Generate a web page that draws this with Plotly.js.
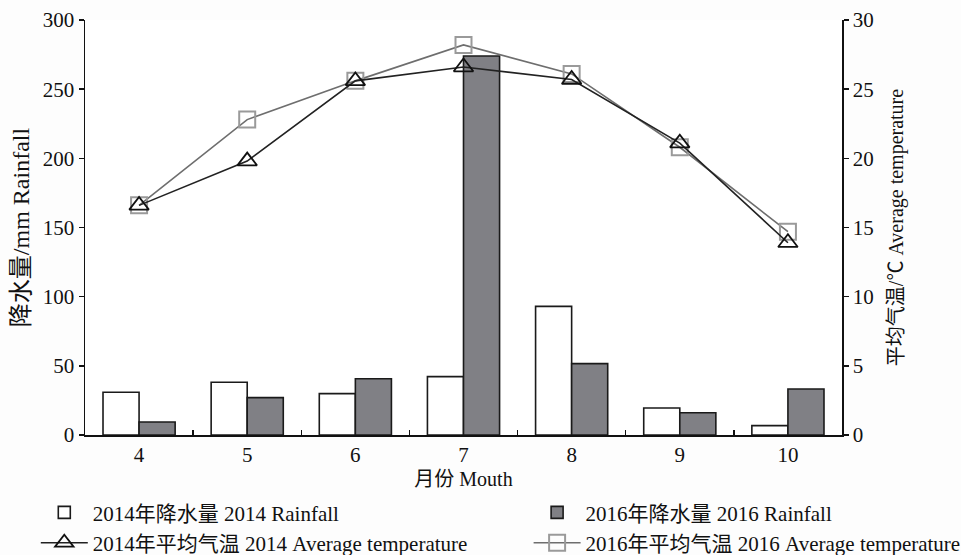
<!DOCTYPE html>
<html>
<head>
<meta charset="utf-8">
<script src="https://cdn.plot.ly/plotly-3.0.1.min.js"></script>
<style>html,body{margin:0;padding:0;background:#fdfdfd;}</style>
</head>
<body>
<div id="chart" style="width:961px;height:555px;"></div>
<script>
const months = ['4', '5', '6', '7', '8', '9', '10'];
const rain2014 = [30.9, 38.1, 29.9, 42.2, 93.0, 19.5, 6.8];
const rain2016 = [9.4, 27.0, 40.7, 274.0, 51.6, 16.1, 33.3];
const temp2014 = [16.6, 19.8, 25.6, 26.6, 25.7, 21.1, 13.9];
const temp2016 = [16.6, 22.8, 25.6, 28.2, 26.1, 20.8, 14.7];
const names = {
  r14: '2014年降水量 2014 Rainfall',
  r16: '2016年降水量 2016 Rainfall',
  t14: '2014年平均气温 2014 Average temperature',
  t16: '2016年平均气温 2016 Average temperature'
};

const FONT = '"Liberation Serif", "Times New Roman", "Noto Sans CJK SC", serif';

const traces = [
  {
    type: 'bar', x: months, y: rain2014, name: names.r14, legend: 'legend',
    marker: {color: '#ffffff', line: {color: '#1a1a1a', width: 1.6}},
    yaxis: 'y'
  },
  {
    type: 'bar', x: months, y: rain2016, name: names.r16, legend: 'legend2',
    marker: {color: '#808085', line: {color: '#1a1a1a', width: 1.6}},
    yaxis: 'y'
  },
  {
    type: 'scatter', mode: 'lines+markers', x: months, y: temp2016, name: names.t16,
    legend: 'legend2', yaxis: 'y2',
    line: {color: '#6e6e6e', width: 1.6},
    marker: {symbol: 'square-open', size: 16, color: '#9a9a9a', line: {width: 2, color: '#9a9a9a'}}
  },
  {
    type: 'scatter', mode: 'lines+markers', x: months, y: temp2014, name: names.t14,
    legend: 'legend', yaxis: 'y2',
    line: {color: '#222222', width: 1.6},
    marker: {symbol: 'triangle-up-open', size: 17, color: '#111111', line: {width: 1.8, color: '#111111'}}
  }
];

const legendCommon = {
  orientation: 'v', xanchor: 'left', yanchor: 'top',
  bgcolor: 'rgba(0,0,0,0)', borderwidth: 0,
  font: {family: FONT, size: 21, color: '#111'},
  itemwidth: 47, tracegroupgap: 0, traceorder: 'normal'
};

const layout = {
  width: 961, height: 555,
  margin: {l: 85, r: 119, t: 20, b: 120, autoexpand: false},
  paper_bgcolor: '#fdfdfd',
  plot_bgcolor: '#ffffff',
  font: {family: FONT, size: 21, color: '#111'},
  barmode: 'group', bargap: 0.333, bargroupgap: 0,
  showlegend: true,
  legend: Object.assign({}, legendCommon, {x: -0.065, y: -0.138}),
  legend2: Object.assign({}, legendCommon, {x: 0.586, y: -0.138}),
  xaxis: {
    type: 'category', range: [-0.5, 6.5], automargin: false,
    showline: true, linecolor: '#111', linewidth: 1.5,
    ticks: 'inside', tickson: 'boundaries', ticklen: 5, tickcolor: '#111', tickwidth: 1.5,
    showgrid: false, zeroline: false,
    tickfont: {family: FONT, size: 21, color: '#111'},
    title: {text: '月份 Mouth', font: {family: FONT, size: 20, color: '#111'}, standoff: 6}
  },
  yaxis: {
    range: [0, 300], dtick: 50, tick0: 0, automargin: false,
    showline: true, linecolor: '#111', linewidth: 1.5,
    ticks: 'outside', ticklen: 5, tickcolor: '#111', tickwidth: 1.5,
    showgrid: false, zeroline: false,
    tickfont: {family: FONT, size: 21, color: '#111'},
    title: {text: '降水量/mm Rainfall', font: {family: FONT, size: 24, color: '#111'}, standoff: 6}
  },
  yaxis2: {
    overlaying: 'y', side: 'right', automargin: false,
    range: [0, 30], dtick: 5, tick0: 0,
    showline: true, linecolor: '#111', linewidth: 1.5,
    ticks: 'outside', ticklen: 5, tickcolor: '#111', tickwidth: 1.5,
    showgrid: false, zeroline: false,
    tickfont: {family: FONT, size: 21, color: '#111'},
    title: {text: '平均气温/℃ Average temperature', font: {family: FONT, size: 20, color: '#111'}, standoff: 16}
  }
};

Plotly.newPlot('chart', traces, layout, {displayModeBar: false, staticPlot: true});
</script>
</body>
</html>
